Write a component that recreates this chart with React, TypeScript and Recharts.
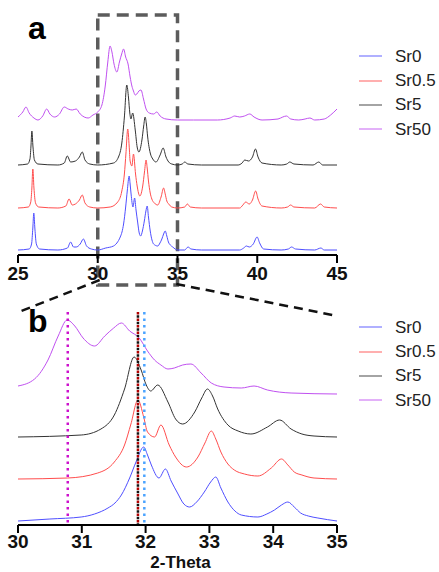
import { LineChart, Line, XAxis, YAxis, ReferenceArea, ReferenceLine } from "recharts";

type Pt = [number, number];

// 2-Theta vs. intensity (a.u., baseline removed)
const sr0: Pt[] = [
  [25.0, 0], [25.7, 1], [25.85, 6], [25.93, 22], [25.99, 37], [26.06, 21], [26.15, 6], [26.35, 1],
  [27.5, 0], [28.1, 2], [28.3, 8], [28.48, 3], [28.65, 3], [28.9, 6], [29.1, 11], [29.3, 4], [29.6, 1],
  [30.0, 0], [30.5, 2], [30.99, 4], [31.2, 7], [31.41, 13], [31.52, 18], [31.62, 26], [31.75, 43],
  [31.85, 59], [31.97, 74], [32.03, 66], [32.09, 56], [32.21, 43], [32.31, 52], [32.4, 40], [32.5, 28],
  [32.6, 17], [32.69, 14], [32.8, 19], [32.92, 29], [33.02, 39], [33.1, 44], [33.18, 33], [33.29, 19],
  [33.4, 10], [33.5, 6], [33.76, 4], [33.9, 7], [34.02, 11], [34.13, 16], [34.23, 19], [34.33, 14],
  [34.43, 8], [34.55, 5], [34.7, 3], [35.0, 0], [35.45, 0], [35.66, 3], [35.85, 1], [36.5, 0],
  [38.9, 0], [39.15, 2], [39.32, 4], [39.5, 3], [39.75, 6], [39.99, 13], [40.15, 7], [40.4, 1],
  [41.5, 0], [41.95, 1], [42.15, 3], [42.4, 1], [43.6, 0], [43.99, 2], [44.2, 0], [45.0, 0],
];

const sr05: Pt[] = [
  [25.0, 0], [25.65, 1], [25.8, 6], [25.87, 20], [25.93, 39], [26.0, 20], [26.1, 5], [26.3, 1],
  [27.5, 0], [28.0, 2], [28.2, 9], [28.4, 3], [28.6, 4], [28.85, 8], [29.03, 13], [29.2, 5], [29.5, 1],
  [30.0, 0], [30.78, 1], [31.25, 6], [31.51, 17], [31.67, 34], [31.77, 55], [31.88, 79], [31.97, 62],
  [32.03, 47], [32.14, 42], [32.24, 54], [32.37, 34], [32.47, 22], [32.64, 12], [32.82, 22], [32.93, 36],
  [33.03, 48], [33.1, 40], [33.18, 27], [33.29, 15], [33.39, 9], [33.55, 5], [33.76, 3], [33.97, 11],
  [34.13, 20], [34.23, 14], [34.33, 7], [34.45, 4], [34.64, 1], [35.0, 0], [35.45, 1], [35.62, 4],
  [35.8, 1], [36.5, 0], [38.9, 0], [39.1, 3], [39.28, 6], [39.5, 4], [39.7, 8], [39.9, 17], [40.05, 9],
  [40.3, 2], [41.5, 0], [41.9, 1], [42.09, 3], [42.3, 1], [43.6, 0], [43.97, 4], [44.2, 1], [45.0, 0],
];

const sr5: Pt[] = [
  [25.0, 0], [25.6, 1], [25.75, 6], [25.81, 18], [25.87, 34], [25.94, 18], [26.03, 5], [26.25, 1],
  [27.5, 0], [27.9, 2], [28.09, 9], [28.3, 3], [28.6, 4], [28.85, 8], [29.03, 13], [29.2, 5], [29.5, 1],
  [30.0, 0], [30.99, 2], [31.3, 8], [31.51, 22], [31.67, 48], [31.82, 80], [31.93, 67], [32.01, 52],
  [32.08, 46], [32.19, 52], [32.35, 35], [32.47, 18], [32.58, 13], [32.77, 25], [32.88, 39], [32.97, 48],
  [33.05, 41], [33.13, 28], [33.29, 12], [33.45, 6], [33.65, 3], [33.91, 10], [34.1, 17], [34.28, 8],
  [34.45, 3], [34.64, 1], [35.0, 0], [35.3, 1], [35.45, 3], [35.65, 1], [36.5, 0], [38.8, 0],
  [39.05, 2], [39.22, 5], [39.45, 4], [39.7, 8], [39.89, 16], [40.05, 8], [40.3, 2], [41.5, 0],
  [41.85, 1], [42.04, 3], [42.3, 1], [43.5, 0], [43.86, 3], [44.1, 0], [45.0, 0],
];

const sr50: Pt[] = [
  [25.0, 3], [25.3, 8], [25.5, 13], [25.7, 7], [26.0, 2], [26.25, 0], [26.55, 4], [26.8, 11], [27.0, 6],
  [27.3, 3], [27.6, 6], [27.9, 13], [28.15, 11], [28.4, 10], [28.65, 11], [28.9, 6], [29.15, 3],
  [29.4, 2], [29.7, 5], [30.0, 8], [30.26, 15], [30.47, 34], [30.63, 58], [30.77, 74], [30.89, 68],
  [31.02, 56], [31.2, 48], [31.36, 58], [31.5, 66], [31.62, 71], [31.75, 63], [31.9, 56], [32.03, 43],
  [32.14, 34], [32.24, 29], [32.35, 25], [32.45, 26], [32.58, 29], [32.71, 30], [32.87, 21], [33.03, 11],
  [33.23, 7], [33.5, 6], [33.7, 8], [33.91, 4], [34.28, 1], [35.0, 0], [36.0, 0], [37.5, 0], [38.3, 2],
  [38.59, 4], [38.9, 3], [39.2, 4], [39.53, 6], [39.8, 3], [40.3, 0], [41.3, 1], [41.6, 3], [41.83, 4],
  [42.1, 1], [42.6, 0], [43.0, 1], [43.3, 2], [43.6, 0], [44.2, 1], [44.6, 5], [45.0, 11],
];

const seriesNames = ["Sr0", "Sr0.5", "Sr5", "Sr50"];
const seriesData = [sr0, sr05, sr5, sr50];
// vertical stacking offsets for the two panels
const stackA = [5, 47, 90, 135];
const stackB = [4, 46, 88, 131];

const ticksA = [25, 30, 35, 40, 45];
const ticksB = [30, 31, 32, 33, 34, 35];

// main-peak positions marked in panel b
const peakPos = [30.78, 31.88, 31.88, 31.98];

const colors = ["#4f4fff", "#ff4d4d", "#333333", "#c050f0"];
const peakColors = ["#cc11cc", "#b00000", "#111111", "#4aa3ff"];
const FONT = "'Liberation Sans', Arial, sans-serif";

const stacked = (pts: Pt[], off: number, lo: number, hi: number) =>
  pts.filter(([t]) => t >= lo && t <= hi).map(([t, v]) => ({ t, v: v + off }));

const tickStyle = { fill: "#111", fontSize: 19, fontWeight: 700, fontFamily: FONT };

function SeriesLegend({ top }: { top: number }) {
  return (
    <div style={{ position: "absolute", left: 355, top, fontFamily: FONT }}>
      {seriesNames.map((name, i) => (
        <div key={name} style={{ display: "flex", alignItems: "center", height: 24.4 }}>
          <svg width={40} height={4}>
            <line x1={4} x2={27} y1={2} y2={2} stroke={colors[i]} strokeOpacity={0.6} strokeWidth={1.5} />
          </svg>
          <span style={{ fontSize: 17, color: "#222", lineHeight: 1 }}>{name}</span>
        </div>
      ))}
    </div>
  );
}

const panelLabel = (text: string, top: number) => (
  <div style={{ position: "absolute", left: 28, top, fontFamily: FONT, fontWeight: 700, fontSize: 32, lineHeight: 1 }}>
    {text}
  </div>
);

export default function App() {
  return (
    <div style={{ position: "absolute", left: 0, top: 0, width: 439, height: 572, background: "#fff", overflow: "hidden" }}>
      <div style={{ position: "absolute", left: 0, top: 0 }}>
        <LineChart width={439} height={295} margin={{ top: 15, right: 102, bottom: 10, left: 18 }}>
          <XAxis
            type="number"
            dataKey="t"
            domain={[25, 45]}
            ticks={ticksA}
            interval={0}
            allowDataOverflow
            height={30}
            axisLine={{ stroke: "#000", strokeWidth: 2 }}
            tickLine={{ stroke: "#000", strokeWidth: 2 }}
            tickSize={8}
            tickMargin={4}
            tick={tickStyle}
          />
          <YAxis hide type="number" domain={[0, 240]} allowDataOverflow />
          {seriesData.map((pts, i) => (
            <Line
              key={seriesNames[i]}
              data={stacked(pts, stackA[i], 25, 45)}
              dataKey="v"
              type="monotone"
              dot={false}
              stroke={colors[i]}
              strokeWidth={1}
              isAnimationActive={false}
            />
          ))}
          <ReferenceArea
            x1={30}
            x2={35}
            y1={-30}
            y2={240}
            ifOverflow="visible"
            fill="none"
            stroke="#5c5c5c"
            strokeWidth={3.5}
            strokeDasharray="12 7"
          />
        </LineChart>
      </div>

      <div style={{ position: "absolute", left: 0, top: 270 }}>
        <LineChart width={439} height={302} margin={{ top: 15, right: 102, bottom: 2, left: 18 }}>
          <XAxis
            type="number"
            dataKey="t"
            domain={[30, 35]}
            ticks={ticksB}
            interval={0}
            allowDataOverflow
            height={45}
            axisLine={{ stroke: "#000", strokeWidth: 2 }}
            tickLine={{ stroke: "#000", strokeWidth: 2 }}
            tickSize={8}
            tickMargin={2}
            tick={tickStyle}
            label={{
              value: "2-Theta",
              position: "insideBottom",
              offset: 2,
              dx: 3,
              style: { ...tickStyle, fontSize: 17 },
            }}
          />
          <YAxis hide type="number" domain={[0, 240]} allowDataOverflow />
          {seriesData.map((pts, i) => (
            <Line
              key={seriesNames[i]}
              data={stacked(pts, stackB[i], 30, 35)}
              dataKey="v"
              type="monotone"
              dot={false}
              stroke={colors[i]}
              strokeWidth={1}
              isAnimationActive={false}
            />
          ))}
          {peakPos.map((x, i) => (
            <ReferenceLine
              key={`peak-${i}`}
              segment={[{ x, y: 213 }, { x, y: 0 }]}
              ifOverflow="visible"
              stroke={peakColors[i]}
              strokeWidth={2.5}
              strokeDasharray="2.5 4"
              strokeDashoffset={i === 2 ? 3.2 : 0}
            />
          ))}
          <ReferenceLine
            segment={[{ x: 31.28, y: 245 }, { x: 29.975, y: 212 }]}
            ifOverflow="visible"
            stroke="#111"
            strokeWidth={2.5}
            strokeDasharray="9 6"
          />
          <ReferenceLine
            segment={[{ x: 32.48, y: 241 }, { x: 34.93, y: 210 }]}
            ifOverflow="visible"
            stroke="#111"
            strokeWidth={2.5}
            strokeDasharray="9 6"
          />
        </LineChart>
      </div>

      {panelLabel("a", 12)}
      {panelLabel("b", 305)}
      <SeriesLegend top={44} />
      <SeriesLegend top={315} />
    </div>
  );
}
